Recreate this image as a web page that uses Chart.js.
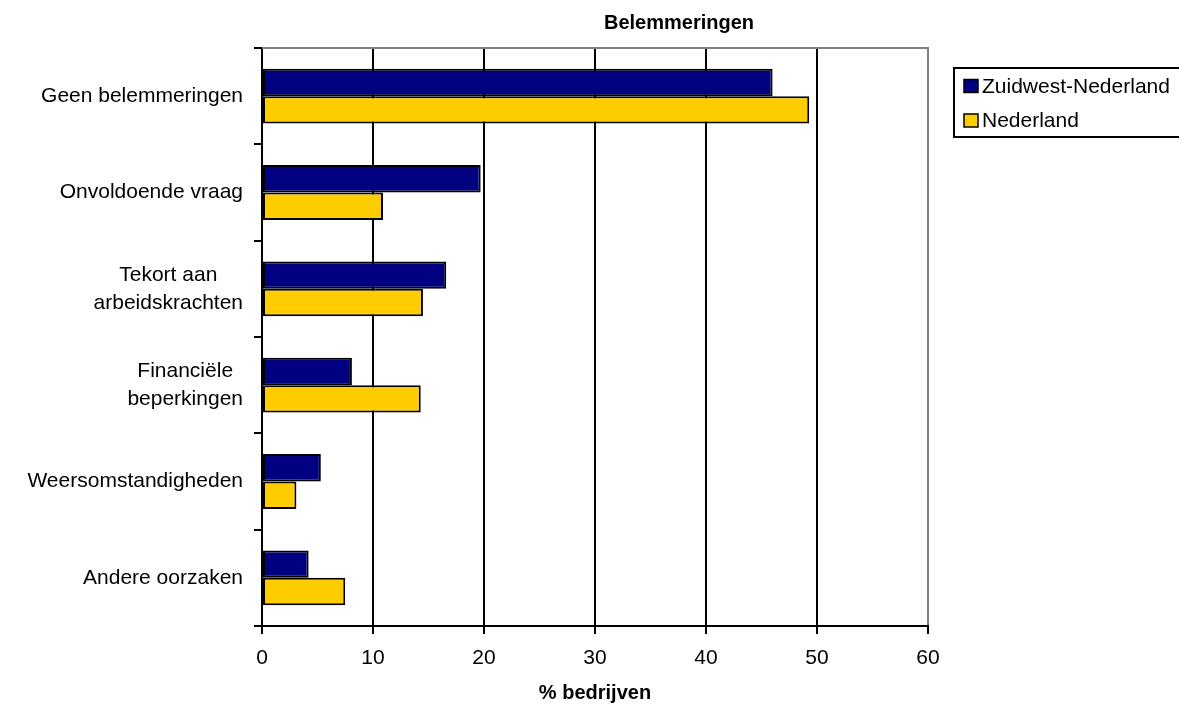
<!DOCTYPE html>
<html lang="nl">

<head>
    <meta charset="UTF-8">
    <style>
        body { margin: 0; background: #fff; }
        #wrap { width: 1179px; height: 706px; }
    </style>
</head>

<body>
    <script src="https://cdn.jsdelivr.net/npm/chart.js@4/dist/chart.umd.min.js"></script>
    <div id="wrap"><canvas id="belemmeringen-chart" width="1179" height="706"></canvas></div>
</body>
<script>
    // data
    var categories = [
        ["Geen belemmeringen"],
        ["Onvoldoende vraag"],
        ["Tekort aan", "arbeidskrachten"],
        ["Financiële", "beperkingen"],
        ["Weersomstandigheden"],
        ["Andere oorzaken"]
    ];
    var zuidwest = [46.0, 19.7, 16.6, 8.1, 5.3, 4.2];
    var nederland = [49.3, 10.9, 14.5, 14.3, 3.1, 7.5];
    var seriesNames = ["Zuidwest-Nederland", "Nederland"];
    var seriesColors = ["#000080", "#FFCC00"];
    var chartTitle = "Belemmeringen";
    var axisTitle = "% bedrijven";
    var xMin = 0, xMax = 60, xStep = 10;

    var FONT = "'Liberation Sans', Arial, sans-serif";

    // category labels: lines centred on each other, block right aligned
    var catLabels = {
        id: 'catLabels',
        afterDraw: function (chart) {
            var ctx = chart.ctx;
            var ys = chart.scales.y;
            var rightEdge = ys.right - 8 - 11;
            var lineH = 28;
            ctx.save();
            ctx.font = "21px " + FONT;
            ctx.fillStyle = "#000";
            ctx.textAlign = "center";
            ctx.textBaseline = "middle";
            for (var i = 0; i < categories.length; i++) {
                var lines = categories[i];
                var w = 0;
                for (var j = 0; j < lines.length; j++) {
                    w = Math.max(w, ctx.measureText(lines[j]).width);
                }
                var cx = rightEdge - w / 2;
                var cy = ys.getPixelForValue(i);
                for (var j = 0; j < lines.length; j++) {
                    ctx.fillText(lines[j], cx, cy + (j - (lines.length - 1) / 2) * lineH);
                }
            }
            ctx.restore();
        }
    };

    // grey top border of the plot area
    var topBorder = {
        id: 'topBorder',
        beforeDatasetsDraw: function (chart) {
            var a = chart.chartArea;
            var ctx = chart.ctx;
            ctx.save();
            ctx.strokeStyle = "#808080";
            ctx.lineWidth = 2;
            ctx.beginPath();
            ctx.moveTo(a.left, a.top);
            ctx.lineTo(a.right + 1, a.top);
            ctx.stroke();
            ctx.restore();
        }
    };

    // title and legend box, drawn by hand
    var titleLegend = {
        id: 'titleLegend',
        afterDraw: function (chart) {
            var ctx = chart.ctx;
            ctx.save();
            ctx.fillStyle = "#000";
            ctx.font = "bold 20px " + FONT;
            ctx.textAlign = "center";
            ctx.textBaseline = "alphabetic";
            ctx.fillText(chartTitle, 679, 29);

            // legend
            ctx.strokeStyle = "#000";
            ctx.lineWidth = 2;
            ctx.strokeRect(954, 68, 250, 69);
            ctx.font = "21px " + FONT;
            ctx.textAlign = "left";
            ctx.textBaseline = "middle";
            var ds = chart.data.datasets;
            var rows = [86, 120.5];
            for (var i = 0; i < ds.length; i++) {
                ctx.fillStyle = ds[i].backgroundColor;
                ctx.fillRect(964, rows[i] - 6.5, 14, 13);
                ctx.lineWidth = 1.5;
                ctx.strokeRect(964, rows[i] - 6.5, 14, 13);
                ctx.fillStyle = "#000";
                ctx.fillText(ds[i].label, 982, rows[i] + 1);
            }
            ctx.restore();
        }
    };

    var ctx = document.getElementById('belemmeringen-chart').getContext('2d');
    var myChart = new Chart(ctx, {
        type: "bar",
        data: {
            labels: categories,
            datasets: [
                {
                    label: seriesNames[0],
                    data: zuidwest,
                    backgroundColor: seriesColors[0],
                    borderColor: "#000",
                    borderWidth: 2,
                    borderSkipped: false
                },
                {
                    label: seriesNames[1],
                    data: nederland,
                    backgroundColor: seriesColors[1],
                    borderColor: "#000",
                    borderWidth: 2,
                    borderSkipped: false
                }
            ]
        },
        options: {
            indexAxis: 'y',
            responsive: false,
            animation: false,
            categoryPercentage: 0.57,
            barPercentage: 1.0,
            layout: { padding: { left: 0, right: 251, top: 48, bottom: 0 } },
            plugins: {
                legend: { display: false },
                title: { display: false },
                tooltip: { enabled: false }
            },
            scales: {
                x: {
                    min: xMin,
                    max: xMax,
                    ticks: {
                        stepSize: xStep,
                        color: "#000",
                        padding: 12,
                        font: { family: FONT, size: 21 }
                    },
                    grid: {
                        color: function (c) {
                            return c.tick && c.tick.value === xMax ? "#808080" : "#000";
                        },
                        tickColor: "#000",
                        lineWidth: 2,
                        tickLength: 8
                    },
                    border: { color: "#000", width: 2 },
                    title: {
                        display: true,
                        text: axisTitle,
                        color: "#000",
                        font: { family: FONT, size: 20, weight: 'bold' },
                        padding: { top: 4, bottom: 1 }
                    },
                    afterFit: function (s) { s.height = 80; }
                },
                y: {
                    ticks: { display: false },
                    grid: {
                        drawOnChartArea: false,
                        drawTicks: true,
                        tickLength: 8,
                        color: "#000",
                        lineWidth: 2,
                        offset: true
                    },
                    border: { color: "#000", width: 2 },
                    afterFit: function (s) { s.width = 262; }
                }
            }
        },
        plugins: [topBorder, catLabels, titleLegend]
    });
</script>

</html>
